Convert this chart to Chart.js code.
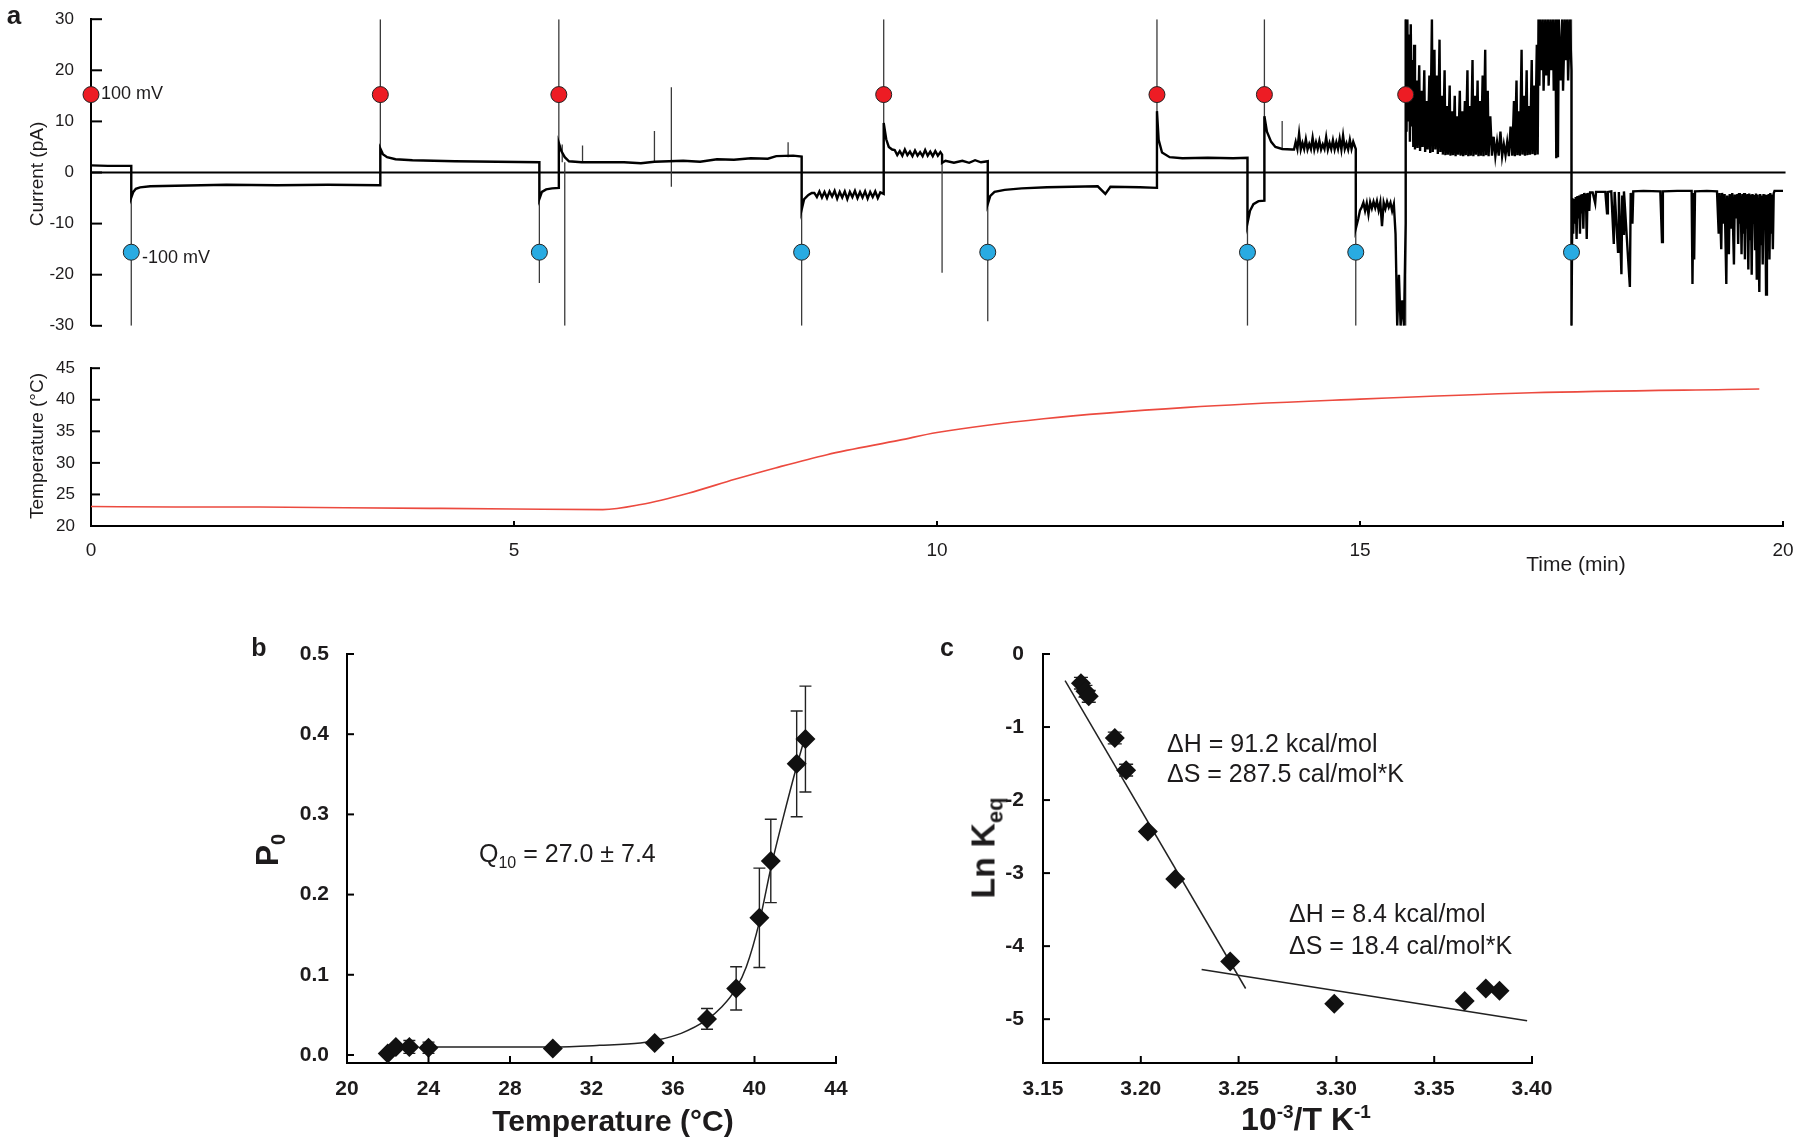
<!DOCTYPE html>
<html lang="en">
<head>
<meta charset="UTF-8" />
<title>Single channel current, temperature, Po and van 't Hoff plot</title>
<script src="https://cdn.jsdelivr.net/npm/chart.js"></script>
<style>
  body { margin: 0; background: #fff; }
  #fig { position: relative; width: 1800px; height: 1144px; overflow: hidden; font-family: 'Liberation Sans', Arial, sans-serif; color: #1d1b1c; }
  #fig canvas { position: absolute; }
  .t { position: absolute; white-space: nowrap; transform: translate(-50%, -50%); line-height: 1; }
  .l { position: absolute; white-space: nowrap; transform: translateY(-50%); line-height: 1; }
  .r { position: absolute; white-space: nowrap; transform: translate(-50%, -50%) rotate(-90deg); line-height: 1; }
  sub, sup { line-height: 0; }
</style>
</head>
<body>
<div id="fig">
  <canvas id="cur" width="1800" height="345" style="left:0;top:0"></canvas>
  <canvas id="temp" width="1800" height="230" style="left:0;top:350px"></canvas>
  <canvas id="po" width="640" height="514" style="left:240px;top:630px"></canvas>
  <canvas id="keq" width="640" height="514" style="left:930px;top:630px"></canvas>

  <div class="t" style="left:14px;top:15px;font:bold 26px 'Liberation Sans',Arial">a</div>
  <div class="r" style="left:36px;top:174px;font-size:19px">Current (pA)</div>
  <div class="r" style="left:36px;top:446px;font-size:19px">Temperature (°C)</div>
  <div class="l" style="left:101px;top:93px;font-size:18px">100 mV</div>
  <div class="l" style="left:142px;top:257px;font-size:18px">-100 mV</div>
  <div class="t" style="left:1576px;top:563px;font-size:21px">Time (min)</div>

  <div class="t" style="left:259px;top:647px;font:bold 25px 'Liberation Sans',Arial">b</div>
  <div class="r" style="left:267px;top:850px;font:bold 32px 'Liberation Sans',Arial">P<sub style="font-size:20px">0</sub></div>
  <div class="l" style="left:479px;top:853px;font-size:25px">Q<sub style="font-size:16px">10</sub> = 27.0 ± 7.4</div>
  <div class="t" style="left:613px;top:1121px;font:bold 30px 'Liberation Sans',Arial">Temperature (°C)</div>

  <div class="t" style="left:947px;top:647px;font:bold 25px 'Liberation Sans',Arial">c</div>
  <div class="r" style="left:983px;top:848px;font:bold 34px 'Liberation Sans',Arial">Ln K<sub style="font-size:22px">eq</sub></div>
  <div class="l" style="left:1167px;top:743px;font-size:25px">ΔH = 91.2 kcal/mol</div>
  <div class="l" style="left:1167px;top:773px;font-size:25px">ΔS = 287.5 cal/mol*K</div>
  <div class="l" style="left:1289px;top:913px;font-size:25px">ΔH = 8.4 kcal/mol</div>
  <div class="l" style="left:1289px;top:945px;font-size:25px">ΔS = 18.4 cal/mol*K</div>
  <div class="t" style="left:1306px;top:1119px;font:bold 32px 'Liberation Sans',Arial">10<sup style="font-size:19px">-3</sup>/T K<sup style="font-size:19px">-1</sup></div>
</div>

<script>
// ---- panel a: current trace (time in min, current in pA) ----
const currentTrace = [
  [0, 1.4], [0.2, 1.3], [0.476, 1.3],
  [0.476, -4.9], [0.5, -3.8], [0.53, -3.2], [0.58, -2.9], [0.7, -2.7], [1.0, -2.6], [1.6, -2.4], [2.2, -2.5], [2.8, -2.4], [3.42, -2.5],
  [3.42, 4.7], [3.45, 3.6], [3.5, 3.0], [3.6, 2.6], [3.8, 2.4], [4.3, 2.2], [4.8, 2.1], [5.3, 2.0],
  [5.3, -5.2], [5.33, -3.8], [5.38, -3.3], [5.45, -3.1], [5.53, -3.0],
  [5.53, 5.8], [5.56, 4.2], [5.6, 3.0], [5.65, 2.2], [5.8, 2.0], [6.02, 2.0],
  [6.3, 2.0], [6.5, 1.8], [6.66, 2.1], [7.0, 2.3], [7.2, 2.1], [7.4, 2.6], [7.6, 2.5], [7.8, 2.8], [8.0, 2.7], [8.1, 3.2], [8.3, 3.3], [8.4, 3.1],
  [8.4, -7.3], [8.43, -5.2], [8.48, -4.4], [8.52, -4.0],
  [8.55, -4.0], [8.58, -4.8], [8.61, -3.7], [8.64, -4.9], [8.67, -3.8], [8.7, -5.0], [8.73, -3.7], [8.76, -4.7], [8.79, -3.6], [8.82, -5.1],
  [8.85, -3.8], [8.88, -4.9], [8.91, -3.7], [8.94, -5.2], [8.97, -3.8], [9.0, -4.8], [9.03, -3.6], [9.06, -5.0], [9.09, -3.8], [9.12, -4.9],
  [9.15, -3.7], [9.18, -5.1], [9.21, -3.8], [9.24, -4.8], [9.27, -3.7], [9.3, -5.0], [9.33, -3.9], [9.37, -4.2],
  [9.37, 9.7], [9.4, 6.5], [9.43, 5.0], [9.47, 4.5],
  [9.5, 4.4], [9.53, 3.4], [9.56, 4.2], [9.59, 3.3], [9.62, 4.5], [9.65, 3.4], [9.68, 4.1], [9.71, 3.2], [9.74, 4.3], [9.77, 3.3],
  [9.8, 4.0], [9.83, 3.2], [9.86, 4.4], [9.89, 3.3], [9.92, 4.1], [9.95, 3.2], [9.98, 4.2], [10.01, 3.3], [10.04, 4.0], [10.06, 3.5],
  [10.06, 1.9], [10.1, 2.3], [10.2, 1.9], [10.3, 2.3], [10.38, 1.9], [10.45, 2.4], [10.52, 2.0], [10.6, 2.2],
  [10.6, -6.2], [10.63, -4.6], [10.68, -3.8], [10.8, -3.4], [11.0, -3.1], [11.3, -2.9], [11.6, -2.8], [11.9, -2.7], [11.99, -4.2], [12.05, -2.8], [12.4, -2.9], [12.6, -3.0],
  [12.6, 12], [12.62, 6.4], [12.66, 3.9], [12.75, 3.0], [12.9, 2.8], [13.2, 2.9], [13.5, 2.8], [13.67, 2.9],
  [13.67, -9.9], [13.7, -7.5], [13.74, -6.2], [13.8, -5.6], [13.87, -5.5],
  [13.87, 11], [13.9, 8], [13.95, 6.0], [14.0, 5.0], [14.08, 4.6], [14.2, 4.5],
  [14.22, 4.5], [14.24, 6.0], [14.26, 4.6], [14.28, 7.6], [14.3, 4.5], [14.32, 5.8], [14.34, 4.6], [14.36, 6.5], [14.38, 4.5], [14.4, 5.6],
  [14.42, 4.6], [14.44, 6.8], [14.46, 4.5], [14.48, 5.9], [14.5, 4.6], [14.52, 6.2], [14.54, 4.5], [14.56, 5.5], [14.58, 4.6], [14.6, 6.9],
  [14.62, 4.5], [14.64, 5.8], [14.66, 4.6], [14.68, 6.3], [14.7, 4.5], [14.72, 5.9], [14.74, 4.6], [14.76, 6.6], [14.78, 4.5], [14.8, 7.2],
  [14.82, 4.6], [14.84, 5.7], [14.86, 4.5], [14.88, 6.4], [14.9, 4.6], [14.92, 6.0], [14.95, 4.6],
  [14.95, -11], [14.98, -9], [15.0, -7.4], [15.02, -6.8], [15.04, -5.9], [15.06, -7.5], [15.08, -6.0], [15.1, -8.2], [15.12, -5.8], [15.14, -7.0],
  [15.16, -5.7], [15.18, -6.9], [15.2, -5.6], [15.22, -7.4], [15.24, -5.8], [15.26, -10.5], [15.28, -5.9], [15.3, -7.1], [15.32, -5.7], [15.34, -6.8],
  [15.36, -5.9], [15.38, -7.5], [15.4, -6.2], [15.42, -12], [15.44, -30], [15.46, -20], [15.48, -30], [15.5, -25], [15.52, -30], [15.54, -10],
  [15.54, 30], [15.55, 8], [15.56, 30], [15.57, 10], [15.58, 27], [15.59, 6], [15.6, 29], [15.61, 9], [15.62, 22], [15.63, 5],
  [15.64, 25], [15.65, 4.5], [15.67, 18], [15.68, 4.8], [15.7, 21], [15.71, 4.2], [15.73, 16], [15.74, 5], [15.76, 20], [15.77, 4],
  [15.79, 14], [15.8, 4.5], [15.82, 19], [15.83, 3.8], [15.85, 30], [15.86, 4], [15.88, 24], [15.89, 4.5], [15.91, 19], [15.92, 3.6],
  [15.94, 26], [15.95, 4], [15.97, 15], [15.98, 3.5], [16.0, 20], [16.01, 3.4], [16.03, 13], [16.04, 3.5], [16.06, 17], [16.07, 3.3],
  [16.09, 12], [16.1, 3.4], [16.12, 15], [16.13, 3.2], [16.15, 11], [16.16, 3.5], [16.18, 16], [16.19, 3.3], [16.21, 12], [16.22, 3.2],
  [16.24, 14], [16.25, 3.4], [16.27, 20], [16.28, 3.2], [16.3, 13], [16.31, 3.3], [16.33, 22], [16.34, 3.2], [16.36, 15], [16.37, 3.5],
  [16.39, 18], [16.4, 3.2], [16.42, 14], [16.43, 3.3], [16.45, 19], [16.46, 3.2], [16.48, 24], [16.49, 3.4], [16.51, 16], [16.52, 3.2],
  [16.54, 11], [16.56, 3.3], [16.58, 7], [16.6, 3.2], [16.62, 6], [16.64, 3.3], [16.66, 8], [16.68, 3.2], [16.7, 5.5], [16.72, 3.4],
  [16.74, 6], [16.76, 3.2], [16.78, 9], [16.8, 3.3], [16.82, 14], [16.83, 3.2], [16.85, 18], [16.86, 3.4], [16.88, 12], [16.89, 3.3],
  [16.91, 24], [16.92, 3.5], [16.94, 15], [16.95, 3.3], [16.97, 20], [16.98, 3.4], [17.0, 13], [17.01, 3.5], [17.03, 22], [17.04, 3.6],
  [17.06, 17], [17.07, 3.4], [17.09, 25], [17.1, 3.5], [17.11, 30], [17.12, 17], [17.13, 30], [17.14, 20], [17.16, 30], [17.17, 16],
  [17.19, 30], [17.2, 19], [17.22, 30], [17.23, 17], [17.25, 30], [17.26, 20], [17.28, 30], [17.29, 16], [17.31, 30], [17.32, 2.8],
  [17.33, 30], [17.34, 3.0], [17.35, 30], [17.37, 18], [17.39, 30], [17.4, 16], [17.42, 30], [17.43, 22], [17.45, 30], [17.46, 18],
  [17.48, 30], [17.5, 20],
  [17.5, -30], [17.51, -5], [17.52, -12], [17.53, -5.2], [17.54, -10], [17.55, -4.8], [17.56, -13], [17.57, -4.6], [17.58, -9], [17.59, -4.5],
  [17.6, -12], [17.61, -4.3], [17.62, -8], [17.63, -4.2], [17.64, -11], [17.65, -4.0], [17.66, -7], [17.67, -4.1], [17.68, -13], [17.69, -4.0],
  [17.71, -7.5], [17.72, -3.9], [17.75, -3.9], [17.78, -6], [17.79, -3.8], [17.85, -3.8], [17.9, -3.8], [17.92, -8], [17.93, -3.8], [17.97, -3.7],
  [18.0, -14], [18.01, -3.8], [18.05, -15.5], [18.06, -3.8], [18.09, -19.9], [18.1, -4.5], [18.11, -12], [18.12, -3.7], [18.19, -22.4], [18.2, -4],
  [18.22, -10], [18.23, -3.7], [18.35, -3.6], [18.55, -3.7], [18.57, -13.6], [18.58, -3.7], [18.75, -3.6], [18.92, -3.6], [18.93, -21.8], [18.94, -4.0],
  [18.95, -17], [18.96, -3.7], [19.1, -3.6], [19.22, -3.7], [19.24, -12], [19.25, -4], [19.27, -15], [19.28, -4], [19.3, -10], [19.31, -4.2],
  [19.33, -21.8], [19.34, -4.5], [19.36, -16], [19.37, -4.2], [19.39, -11], [19.4, -4.0], [19.42, -18], [19.43, -4.3], [19.45, -9], [19.46, -4.2],
  [19.47, -14], [19.48, -4.0], [19.49, -10], [19.5, -4.5], [19.51, -16], [19.52, -4.2], [19.53, -12], [19.54, -4.0], [19.55, -17], [19.56, -4.4],
  [19.57, -11], [19.58, -4.2], [19.59, -19], [19.6, -4.1], [19.61, -13], [19.62, -4.3], [19.63, -20], [19.64, -4.2], [19.65, -10], [19.66, -4.4],
  [19.67, -15], [19.68, -4.1], [19.69, -21], [19.7, -4.3], [19.71, -12], [19.72, -23.4], [19.73, -4.2], [19.74, -14], [19.75, -4.5], [19.76, -18],
  [19.77, -4.2], [19.78, -11], [19.79, -4.3], [19.8, -23.9], [19.81, -4.4], [19.82, -13], [19.83, -4.2], [19.84, -17], [19.85, -4.0], [19.86, -12],
  [19.87, -4.3], [19.88, -15], [19.89, -4.1], [19.9, -3.6], [20.03, -3.6]
];
// capacitive transients at the voltage steps and other single spikes
const spikeT  = [0.476, 3.42, 5.30, 5.53, 5.57, 5.60, 5.81, 6.66, 6.86, 8.24, 8.40, 9.37, 10.06, 10.60, 12.60, 13.67, 13.87, 14.08, 14.95, 15.54, 17.50];
const spikeLo = [-30, -2.5, -21.6, -3.0, 2.0, -30, 2.0, 2.0, -2.8, 3.0, -30, -4.0, -19.6, -29.1, -3.0, -30, -5.5, 4.6, -30, -30, -30];
const spikeHi = [1.3, 30, 2.0, 30, 5.5, 2.0, 5.3, 8.1, 16.7, 5.9, 3.2, 30, 3.5, 2.2, 30, 2.9, 30, 10.1, 4.6, 30, 30];
const stepUpT   = [0, 3.42, 5.53, 9.37, 12.60, 13.87, 15.54];   // +100 mV
const stepDownT = [0.476, 5.30, 8.40, 10.60, 13.67, 14.95, 17.50]; // -100 mV
const markerUpI = 15.25, markerDownI = -15.6;
const currentTicks = [30, 20, 10, 0, -10, -20, -30];

// temperature
const tempT = [0, 1, 2, 3, 4, 5, 6.05, 6.5, 7.06, 7.61, 8.09, 8.7, 9.56, 10.0, 11.26, 12.96, 15.0, 17.03, 19.72];
const tempC = [23.1, 23.0, 23.0, 22.9, 22.8, 22.7, 22.6, 23.4, 25.2, 27.4, 29.2, 31.3, 33.6, 34.8, 37.0, 38.8, 40.1, 41.1, 41.7];
const tempTicks = [20, 25, 30, 35, 40, 45];
const timeTicks = [0, 5, 10, 15, 20];

// ---- panel b: open probability ----
const poTemp = [22.0, 22.4, 23.06, 24.0, 30.1, 35.1, 37.67, 39.1, 40.24, 40.8, 42.07, 42.5];
const poVal  = [0.002, 0.010, 0.010, 0.009, 0.008, 0.015, 0.045, 0.083, 0.171, 0.242, 0.363, 0.394];
const poErr  = [0, 0, 0.008, 0.007, 0, 0, 0.013, 0.027, 0.062, 0.052, 0.066, 0.066];
const poFitT = [24.0, 30.1, 32.4, 34.4, 35.1, 36.4, 37.67, 38.4, 39.1, 39.6, 40.24, 40.82, 41.4, 42.07, 42.53];
const poFitP = [0.010, 0.010, 0.012, 0.015, 0.018, 0.027, 0.044, 0.060, 0.083, 0.110, 0.166, 0.235, 0.295, 0.360, 0.401];
const poXTicks = [20, 24, 28, 32, 36, 40, 44];
const poYTicks = [0, 0.1, 0.2, 0.3, 0.4, 0.5];

// ---- panel c: van 't Hoff ----
const invT = [3.1694, 3.1717, 3.1734, 3.1867, 3.1925, 3.2036, 3.2176, 3.2457, 3.2989, 3.3656, 3.3764, 3.3834];
const lnK  = [-0.40, -0.51, -0.58, -1.15, -1.59, -2.43, -3.08, -4.21, -4.79, -4.75, -4.58, -4.61];
const lnKErr = [0.08, 0.08, 0.08, 0.08, 0.08, 0, 0, 0, 0, 0, 0, 0];
const highFitX = [3.1613, 3.2536], highFitY = [-0.366, -4.58];
const lowFitX  = [3.2311, 3.3975], lowFitY  = [-4.32, -5.02];
const keqXTicks = [3.15, 3.20, 3.25, 3.30, 3.35, 3.40];
const keqYTicks = [0, -1, -2, -3, -4, -5];

Chart.defaults.font.family = "'Liberation Sans', Arial, sans-serif";
Chart.defaults.color = '#1d1b1c';

const pts = (xs, ys) => xs.map((x, i) => ({ x, y: ys[i] }));
const setTicks = vals => s => { s.ticks = vals.map(v => ({ value: v })); };

// draws the short tick marks pointing into the plot
function inwardTicks(list) {
  return {
    id: 'inwardTicks',
    afterDraw(chart) {
      const ctx = chart.ctx;
      ctx.save();
      ctx.strokeStyle = '#000';
      ctx.lineWidth = 2;
      list.forEach(([id, len]) => {
        const s = chart.scales[id];
        s.ticks.forEach(t => {
          const p = s.getPixelForValue(t.value);
          ctx.beginPath();
          if (s.isHorizontal()) { ctx.moveTo(p, s.top); ctx.lineTo(p, s.top - len); }
          else { ctx.moveTo(s.right, p); ctx.lineTo(s.right + len, p); }
          ctx.stroke();
        });
      });
      ctx.restore();
    }
  };
}

function errorBars(xs, ys, errs, cap) {
  return {
    id: 'errorBars',
    beforeDatasetsDraw(chart) {
      const { ctx, scales: { x, y } } = chart;
      ctx.save();
      ctx.strokeStyle = '#222';
      ctx.lineWidth = 1.4;
      xs.forEach((v, i) => {
        if (!errs[i]) return;
        const px = x.getPixelForValue(v);
        const top = y.getPixelForValue(ys[i] + errs[i]);
        const bot = y.getPixelForValue(ys[i] - errs[i]);
        ctx.beginPath();
        ctx.moveTo(px, top); ctx.lineTo(px, bot);
        ctx.moveTo(px - cap, top); ctx.lineTo(px + cap, top);
        ctx.moveTo(px - cap, bot); ctx.lineTo(px + cap, bot);
        ctx.stroke();
      });
      ctx.restore();
    }
  };
}

const noLegend = { legend: { display: false }, tooltip: { enabled: false } };
const border2 = { display: true, color: '#000', width: 2 };

// current trace
new Chart(document.getElementById('cur'), {
  type: 'scatter',
  data: {
    datasets: [
      { data: stepUpT.map(t => ({ x: t, y: markerUpI })), pointRadius: 8, backgroundColor: '#ed1c24', borderColor: '#222', borderWidth: 1, clip: false },
      { data: stepDownT.map(t => ({ x: t, y: markerDownI })), pointRadius: 8, backgroundColor: '#29abe2', borderColor: '#222', borderWidth: 1, clip: false },
      { data: currentTrace.map(([x, y]) => ({ x, y })), showLine: true, borderColor: '#000', borderWidth: 2.4, pointRadius: 0 },
      { data: spikeT.flatMap((t, i) => [{ x: t, y: spikeLo[i] }, { x: t, y: spikeHi[i] }, { x: t, y: null }]), showLine: true, spanGaps: false, borderColor: '#3a3a3a', borderWidth: 1.3, pointRadius: 0 },
      { data: [{ x: 0, y: 0 }, { x: 20.03, y: 0 }], showLine: true, borderColor: '#000', borderWidth: 2, pointRadius: 0, clip: false }
    ]
  },
  options: {
    responsive: false, animation: false, devicePixelRatio: 1,
    layout: { padding: { left: 0, right: 17, top: 14, bottom: 11 } },
    scales: {
      x: { type: 'linear', min: 0, max: 20, display: false },
      y: {
        min: -30, max: 30, afterBuildTicks: setTicks(currentTicks), afterFit: s => { s.width = 91; },
        grid: { display: false }, border: border2,
        ticks: { padding: 9, font: { size: 17 } }
      }
    },
    plugins: noLegend
  },
  plugins: [inwardTicks([['y', 11]])]
});

// temperature
new Chart(document.getElementById('temp'), {
  type: 'scatter',
  data: {
    datasets: [
      { data: pts(tempT, tempC), showLine: true, borderColor: '#ec4a3f', borderWidth: 1.6, pointRadius: 0, cubicInterpolationMode: 'monotone' }
    ]
  },
  options: {
    responsive: false, animation: false, devicePixelRatio: 1,
    layout: { padding: { left: 0, right: 17, top: 17, bottom: 0 } },
    scales: {
      x: {
        type: 'linear', min: 0, max: 20, afterBuildTicks: setTicks(timeTicks), afterFit: s => { s.height = 54; },
        grid: { display: false }, border: border2, ticks: { padding: 5, font: { size: 19 }, maxRotation: 0 }
      },
      y: {
        min: 20, max: 45, afterBuildTicks: setTicks(tempTicks), afterFit: s => { s.width = 91; },
        grid: { display: false }, border: border2, ticks: { padding: 8, font: { size: 17 } }
      }
    },
    plugins: noLegend
  },
  plugins: [inwardTicks([['x', 5], ['y', 9]])]
});

// panel b
new Chart(document.getElementById('po'), {
  type: 'scatter',
  data: {
    datasets: [
      { data: pts(poTemp, poVal), pointStyle: 'rectRot', pointRadius: 10, backgroundColor: '#111', borderColor: '#111', borderWidth: 0, clip: false },
      { data: pts(poFitT, poFitP), showLine: true, borderColor: '#222', borderWidth: 1.5, pointRadius: 0, cubicInterpolationMode: 'monotone' }
    ]
  },
  options: {
    responsive: false, animation: false, devicePixelRatio: 1,
    layout: { padding: { left: 0, right: 44, top: 24, bottom: 0 } },
    scales: {
      x: {
        type: 'linear', min: 20, max: 44, afterBuildTicks: setTicks(poXTicks), afterFit: s => { s.height = 81; },
        grid: { display: false }, border: border2,
        ticks: { padding: 6, maxRotation: 0, font: { size: 21, weight: 'bold' } }
      },
      y: {
        min: -0.01, max: 0.5, afterBuildTicks: setTicks(poYTicks), afterFit: s => { s.width = 107; },
        grid: { display: false }, border: border2,
        ticks: { padding: 10, font: { size: 21, weight: 'bold' }, callback: v => v.toFixed(1) }
      }
    },
    plugins: noLegend
  },
  plugins: [errorBars(poTemp, poVal, poErr, 6), inwardTicks([['x', 7], ['y', 7]])]
});

// panel c
new Chart(document.getElementById('keq'), {
  type: 'scatter',
  data: {
    datasets: [
      { data: pts(invT, lnK), pointStyle: 'rectRot', pointRadius: 10, backgroundColor: '#111', borderColor: '#111', borderWidth: 0 },
      { data: pts(highFitX, highFitY), showLine: true, borderColor: '#222', borderWidth: 1.5, pointRadius: 0 },
      { data: pts(lowFitX, lowFitY), showLine: true, borderColor: '#222', borderWidth: 1.5, pointRadius: 0 }
    ]
  },
  options: {
    responsive: false, animation: false, devicePixelRatio: 1,
    layout: { padding: { left: 0, right: 38, top: 24, bottom: 0 } },
    scales: {
      x: {
        type: 'linear', min: 3.15, max: 3.40, afterBuildTicks: setTicks(keqXTicks), afterFit: s => { s.height = 81; },
        grid: { display: false }, border: border2,
        ticks: { padding: 6, maxRotation: 0, font: { size: 21, weight: 'bold' }, callback: v => v.toFixed(2) }
      },
      y: {
        min: -5.6, max: 0, afterBuildTicks: setTicks(keqYTicks), afterFit: s => { s.width = 113; },
        grid: { display: false }, border: border2,
        ticks: { padding: 11, font: { size: 21, weight: 'bold' } }
      }
    },
    plugins: noLegend
  },
  plugins: [errorBars(invT, lnK, lnKErr, 7), inwardTicks([['x', 7], ['y', 7]])]
});
</script>
</body>
</html>
